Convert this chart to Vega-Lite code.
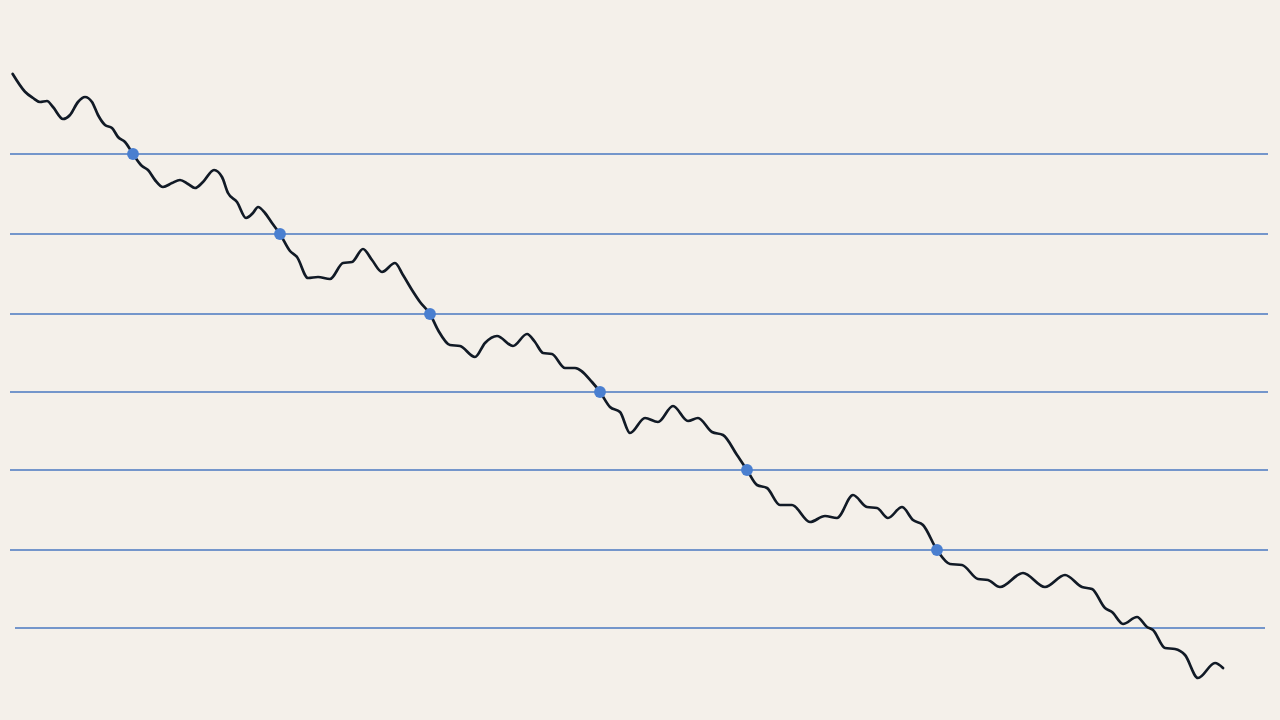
{
  "$schema": "https://vega.github.io/schema/vega-lite/v6.json",
  "width": 1280,
  "height": 720,
  "padding": 0,
  "autosize": {"type": "fit", "contains": "padding"},
  "background": "#f4f0ea",
  "config": {"view": {"stroke": null}},
  "datasets": {
    "curve": [
      {"x": 12.7, "y": 74}, {"x": 25, "y": 91.7}, {"x": 33, "y": 98}, {"x": 40, "y": 102}, {"x": 47, "y": 101},
      {"x": 53, "y": 107}, {"x": 63, "y": 119}, {"x": 70, "y": 115}, {"x": 78, "y": 102}, {"x": 85, "y": 97},
      {"x": 92, "y": 102}, {"x": 98, "y": 115}, {"x": 105, "y": 125}, {"x": 112, "y": 128}, {"x": 118, "y": 137},
      {"x": 125, "y": 142}, {"x": 133, "y": 154}, {"x": 142, "y": 166}, {"x": 148, "y": 170}, {"x": 155, "y": 180},
      {"x": 163, "y": 187}, {"x": 172, "y": 183}, {"x": 180, "y": 180}, {"x": 188, "y": 184}, {"x": 195, "y": 188},
      {"x": 203, "y": 182}, {"x": 214, "y": 170}, {"x": 222, "y": 177}, {"x": 228, "y": 193}, {"x": 237, "y": 202},
      {"x": 246, "y": 218}, {"x": 253, "y": 213}, {"x": 258, "y": 207}, {"x": 265, "y": 213}, {"x": 272, "y": 223},
      {"x": 280, "y": 234}, {"x": 290, "y": 251}, {"x": 297, "y": 257}, {"x": 308, "y": 278}, {"x": 318, "y": 277},
      {"x": 330, "y": 279}, {"x": 343, "y": 263}, {"x": 352, "y": 262}, {"x": 363, "y": 249}, {"x": 372, "y": 260},
      {"x": 382, "y": 272}, {"x": 395, "y": 263}, {"x": 403, "y": 275}, {"x": 412, "y": 290}, {"x": 420, "y": 302},
      {"x": 430, "y": 314}, {"x": 438, "y": 330}, {"x": 450, "y": 345}, {"x": 460, "y": 346}, {"x": 475, "y": 357},
      {"x": 485, "y": 343}, {"x": 497, "y": 336}, {"x": 513, "y": 346}, {"x": 527, "y": 334}, {"x": 535, "y": 342},
      {"x": 543, "y": 353}, {"x": 552, "y": 354}, {"x": 565, "y": 368}, {"x": 575, "y": 368}, {"x": 592, "y": 382},
      {"x": 600, "y": 392}, {"x": 610, "y": 407}, {"x": 620, "y": 412}, {"x": 630, "y": 433}, {"x": 645, "y": 418},
      {"x": 658, "y": 422}, {"x": 673, "y": 406}, {"x": 688, "y": 421}, {"x": 698, "y": 418}, {"x": 712, "y": 432},
      {"x": 723, "y": 435}, {"x": 737, "y": 455}, {"x": 747, "y": 470}, {"x": 757, "y": 485}, {"x": 767, "y": 488},
      {"x": 780, "y": 505}, {"x": 792, "y": 505}, {"x": 810, "y": 522}, {"x": 825, "y": 516}, {"x": 837, "y": 518},
      {"x": 853, "y": 495}, {"x": 867, "y": 507}, {"x": 877, "y": 508}, {"x": 888, "y": 518}, {"x": 902, "y": 507},
      {"x": 913, "y": 520}, {"x": 923, "y": 525}, {"x": 937, "y": 550}, {"x": 950, "y": 564}, {"x": 962, "y": 565},
      {"x": 978, "y": 579}, {"x": 988, "y": 580}, {"x": 1000, "y": 587}, {"x": 1023, "y": 573}, {"x": 1045, "y": 587},
      {"x": 1065, "y": 575}, {"x": 1082, "y": 587}, {"x": 1092, "y": 589}, {"x": 1105, "y": 608}, {"x": 1112, "y": 612},
      {"x": 1123, "y": 624}, {"x": 1137, "y": 617}, {"x": 1147, "y": 627}, {"x": 1153, "y": 630}, {"x": 1165, "y": 648},
      {"x": 1175, "y": 649}, {"x": 1185, "y": 655}, {"x": 1198, "y": 678}, {"x": 1215, "y": 663}, {"x": 1223, "y": 668}
    ],
    "rules": [
      {"y": 154, "x1": 10, "x2": 1268},
      {"y": 234, "x1": 10, "x2": 1268},
      {"y": 314, "x1": 10, "x2": 1268},
      {"y": 392, "x1": 10, "x2": 1268},
      {"y": 470, "x1": 10, "x2": 1268},
      {"y": 550, "x1": 10, "x2": 1268},
      {"y": 628, "x1": 15, "x2": 1265}
    ],
    "dots": [
      {"x": 133, "y": 154}, {"x": 280, "y": 234}, {"x": 430, "y": 314},
      {"x": 600, "y": 392}, {"x": 747, "y": 470}, {"x": 937, "y": 550}
    ]
  },
  "layer": [
    {
      "data": {"name": "rules"},
      "mark": {"type": "rule", "color": "#4a78c0", "strokeWidth": 1.6},
      "encoding": {
        "x": {"field": "x1", "type": "quantitative", "scale": {"domain": [0, 1280], "nice": false, "zero": false}, "axis": null},
        "x2": {"field": "x2"},
        "y": {"field": "y", "type": "quantitative", "scale": {"domain": [0, 720], "reverse": true, "nice": false, "zero": false}, "axis": null}
      }
    },
    {
      "data": {"name": "curve"},
      "mark": {"type": "line", "color": "#111a26", "strokeWidth": 2.7, "interpolate": "monotone", "strokeCap": "round", "strokeJoin": "round"},
      "encoding": {
        "x": {"field": "x", "type": "quantitative", "axis": null},
        "y": {"field": "y", "type": "quantitative", "axis": null}
      }
    },
    {
      "data": {"name": "dots"},
      "mark": {"type": "circle", "color": "#4a7fd0", "opacity": 1, "size": 140},
      "encoding": {
        "x": {"field": "x", "type": "quantitative", "axis": null},
        "y": {"field": "y", "type": "quantitative", "axis": null}
      }
    }
  ]
}
